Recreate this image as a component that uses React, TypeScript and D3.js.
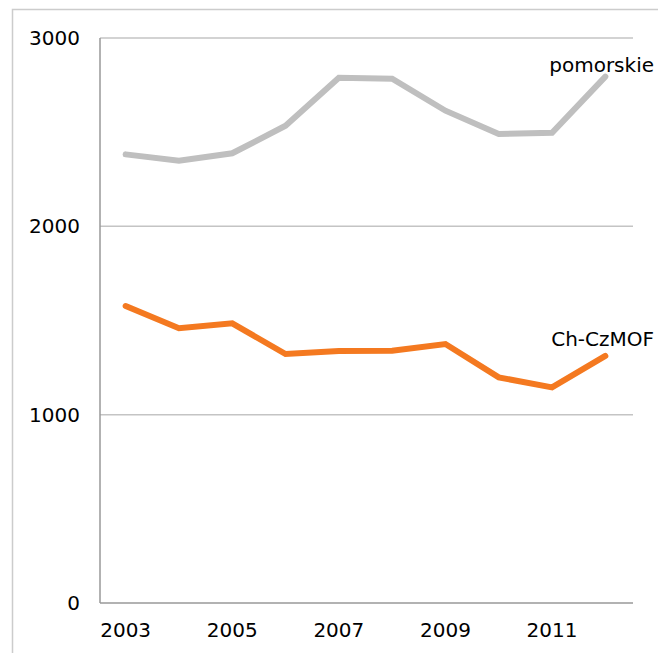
import React, { useEffect, useRef } from 'react';
import * as d3 from 'd3';

const years = ['2003', '2004', '2005', '2006', '2007', '2008', '2009', '2010', '2011', '2012'];
const yearTicks = ['2003', '2005', '2007', '2009', '2011'];
const pomorskie = [2382, 2349, 2388, 2534, 2789, 2784, 2614, 2490, 2497, 2795];
const chCzMOF = [1577, 1459, 1485, 1322, 1338, 1340, 1375, 1198, 1145, 1312];
const yTicks = [0, 1000, 2000, 3000];

const seriesList = [
  { name: 'pomorskie', values: pomorskie, color: '#bfbfbf', labelDy: -5 },
  { name: 'Ch-CzMOF', values: chCzMOF, color: '#f47920', labelDy: -10 },
];

export default function App() {
  const svgRef = useRef<SVGSVGElement>(null);

  useEffect(() => {
    if (!svgRef.current) return;
    const svg = d3.select(svgRef.current);
    svg.selectAll('*').remove();

    const width = 658;
    const height = 653;
    const margin = { top: 38, right: 25, bottom: 50, left: 100 };
    const innerW = width - margin.left - margin.right;
    const innerH = height - margin.top - margin.bottom;
    const font = '"DejaVu Sans", Verdana, sans-serif';

    // outer frame (only left + top edges visible)
    svg.append('rect')
      .attr('x', 12.5)
      .attr('y', 9.5)
      .attr('width', 800)
      .attr('height', 800)
      .attr('fill', 'none')
      .attr('stroke', '#cccccc')
      .attr('stroke-width', 1.5);

    const g = svg.append('g')
      .attr('transform', `translate(${margin.left},${margin.top})`);

    const x = d3.scaleBand<string>()
      .domain(years)
      .range([0, innerW]);

    const y = d3.scaleLinear()
      .domain([0, 3000])
      .range([innerH, 0]);

    const cx = (d: string) => (x(d) ?? 0) + x.bandwidth() / 2 - 1;

    // gridlines
    g.selectAll('.grid')
      .data(yTicks.filter(t => t > 0))
      .enter()
      .append('line')
      .attr('x1', 0)
      .attr('x2', innerW)
      .attr('y1', d => y(d))
      .attr('y2', d => y(d))
      .attr('stroke', '#c4c4c4')
      .attr('stroke-width', 1.5);

    // axes lines
    g.append('line')
      .attr('x1', 0).attr('x2', 0)
      .attr('y1', 0).attr('y2', innerH)
      .attr('stroke', '#999999')
      .attr('stroke-width', 1.5);
    g.append('line')
      .attr('x1', 0).attr('x2', innerW)
      .attr('y1', innerH).attr('y2', innerH)
      .attr('stroke', '#999999')
      .attr('stroke-width', 1.5);

    // y labels
    g.selectAll('.ylab')
      .data(yTicks)
      .enter()
      .append('text')
      .attr('x', -20)
      .attr('y', d => y(d))
      .attr('dy', '0.35em')
      .attr('text-anchor', 'end')
      .attr('font-family', font)
      .attr('font-size', 20)
      .attr('fill', '#000')
      .text(d => String(d));

    // x labels
    g.selectAll('.xlab')
      .data(yearTicks)
      .enter()
      .append('text')
      .attr('x', d => cx(d))
      .attr('y', innerH + 34)
      .attr('text-anchor', 'middle')
      .attr('font-family', font)
      .attr('font-size', 20)
      .attr('fill', '#000')
      .text(d => d);

    const line = d3.line<number>()
      .x((_, i) => cx(years[i]))
      .y(d => y(d));

    seriesList.forEach(s => {
      g.append('path')
        .datum(s.values)
        .attr('d', line)
        .attr('fill', 'none')
        .attr('stroke', s.color)
        .attr('stroke-width', 6)
        .attr('stroke-linejoin', 'miter')
        .attr('stroke-linecap', 'round');

      const last = s.values[s.values.length - 1];
      g.append('text')
        .attr('x', innerW + 21)
        .attr('y', y(last) + s.labelDy)
        .attr('text-anchor', 'end')
        .attr('font-family', font)
        .attr('font-size', 20)
        .attr('fill', '#000')
        .text(s.name);
    });
  }, []);

  return (
    <svg
      ref={svgRef}
      width={658}
      height={653}
      style={{ position: 'absolute', left: 0, top: 0, background: '#fff' }}
    />
  );
}
